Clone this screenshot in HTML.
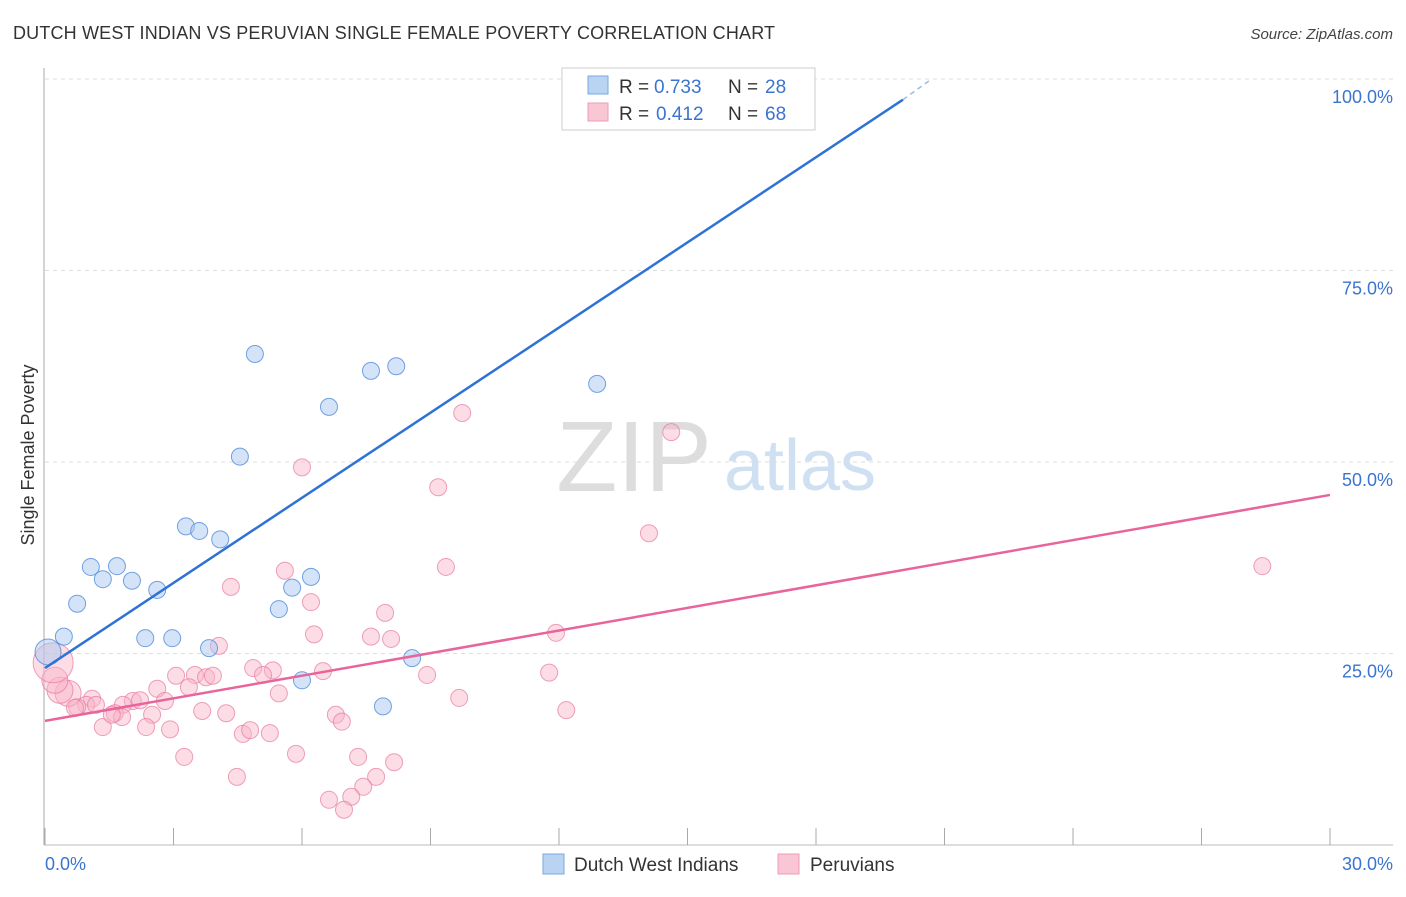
<!DOCTYPE html>
<html><head><meta charset="utf-8"><style>
body{margin:0;background:#fff;font-family:"Liberation Sans",sans-serif;}
svg text{font-family:"Liberation Sans",sans-serif;}
</style></head><body>
<svg id="chart" width="1406" height="892" xmlns="http://www.w3.org/2000/svg">
<text x="13" y="39" font-size="18" fill="#333" letter-spacing="0.17">DUTCH WEST INDIAN VS PERUVIAN SINGLE FEMALE POVERTY CORRELATION CHART</text>
<text x="1393" y="39" font-size="15" fill="#444" text-anchor="end" font-style="italic">Source: ZipAtlas.com</text>
<g>
<text x="634" y="491" font-size="100" fill="#ddd" font-family="Liberation Serif" text-anchor="middle">ZIP</text>
<text x="800" y="490" font-size="72" fill="#cfe0f3" text-anchor="middle">atlas</text>
</g>
<g id="grid"></g>
<g id="axes"></g>
<g id="marks"></g>
<g>
<rect x="562" y="68" width="253" height="62" fill="#fff" stroke="#ccc"/>
<rect x="588" y="76" width="20" height="18" fill="#b9d3f3" stroke="#7aa7e0"/>
<rect x="588" y="103" width="20" height="18" fill="#f9c6d5" stroke="#ee9bb6"/>
<text x="619" y="93" font-size="19" fill="#333">R =</text>
<text x="654" y="93" font-size="19" fill="#3a74d0">0.733</text>
<text x="728" y="93" font-size="19" fill="#333">N =</text>
<text x="765" y="93" font-size="19" fill="#3a74d0">28</text>
<text x="619" y="120" font-size="19" fill="#333">R =</text>
<text x="656" y="120" font-size="19" fill="#3a74d0">0.412</text>
<text x="728" y="120" font-size="19" fill="#333">N =</text>
<text x="765" y="120" font-size="19" fill="#3a74d0">68</text>
</g>
<g>
<rect x="543" y="854" width="21" height="20" fill="#b9d3f3" stroke="#7aa7e0"/>
<text x="574" y="871" font-size="19" fill="#333">Dutch West Indians</text>
<rect x="778" y="854" width="21" height="20" fill="#f9c6d5" stroke="#ee9bb6"/>
<text x="810" y="871" font-size="19" fill="#333">Peruvians</text>
</g>
<text transform="translate(34,455) rotate(-90)" font-size="18" fill="#333" text-anchor="middle">Single Female Poverty</text>
</svg>
<script>
const xTickLabels=["0.0%","30.0%"];
const yTicks=[25,50,75,100];
const yTickLabels=["25.0%","50.0%","75.0%","100.0%"];
const blueX=[0.07,0.44,0.75,1.07,1.35,1.68,2.03,2.34,2.62,2.97,3.29,3.60,3.83,4.09,4.55,4.90,5.46,5.77,6.00,6.21,6.63,7.61,7.89,8.20,8.57,12.89,14.24,17.05];
const blueY=[25.2,27.2,31.5,36.3,34.7,36.4,34.5,27.0,33.3,27.0,41.6,41.0,25.7,39.9,50.7,64.1,30.8,33.6,21.5,35.0,57.2,61.9,18.1,62.5,24.4,60.2,100,100];
const pinkX=[5.60,4.34,6.21,7.94,6.28,7.61,8.08,4.06,9.36,8.92,9.67,6.49,4.86,5.32,5.09,5.46,3.06,3.50,3.76,3.92,3.36,2.62,2.80,2.50,2.36,2.92,3.67,4.23,3.25,4.48,4.62,4.79,5.25,5.86,6.79,6.93,7.31,8.15,7.73,7.43,7.15,6.63,6.98,2.05,1.82,2.22,1.63,1.80,1.35,1.10,0.96,0.75,1.19,0.54,0.35,0.23,0.19,9.74,14.62,9.18,14.10,28.42,11.93,11.77,12.17,6.00,0.70,1.56];
const pinkY=[35.8,33.7,31.7,30.3,27.5,27.2,26.9,26.0,36.3,22.2,19.2,22.7,23.1,22.8,22.2,19.8,22.1,22.2,21.9,22.1,20.6,20.4,18.8,17.0,15.4,15.1,17.5,17.2,11.5,8.9,14.5,15.0,14.6,11.9,17.0,16.1,11.5,10.8,8.9,7.6,6.3,5.9,4.6,18.8,18.3,18.9,17.2,16.7,15.4,19.1,18.3,18.0,18.3,19.8,20.2,21.5,23.8,56.4,53.9,46.7,40.7,36.4,27.7,22.5,17.6,49.3,17.9,17.0];
const blueLine=[0,23.1,20.03,97.3,20.7,100];
const pinkLine=[0,16.2,30,45.7];
const NS="http://www.w3.org/2000/svg";
const X=v=>45+v/30*1285, Y=v=>845-v/100*766;
function mk(tag,attrs,parent){const e=document.createElementNS(NS,tag);for(const k in attrs)e.setAttribute(k,attrs[k]);parent.appendChild(e);return e;}
const grid=document.getElementById('grid'),axes=document.getElementById('axes'),marks=document.getElementById('marks');
yTicks.forEach((t,i)=>{
 const l=mk('line',{x1:45,x2:1393,y1:Y(t),y2:Y(t),stroke:'#ddd','stroke-dasharray':'4,4'},grid);
 
 
 const tx=mk('text',{x:1393,y:Y(t)+24,'font-size':18,fill:'#3a74d0','text-anchor':'end'},axes);
 tx.textContent=yTickLabels[i];
 
 
});
const ax=mk('line',{x1:44,x2:44,y1:68,y2:845,stroke:'#aaa'},axes);


const bx=mk('line',{x1:44,x2:1393,y1:845,y2:845,stroke:'#bbb'},axes);


for(let i=0;i<=10;i++){const t=mk('line',{x1:X(i*3),x2:X(i*3),y1:828,y2:845,stroke:'#aaa'},axes);
 
 }
[[0,'start',45],[30,'end',1393]].forEach((d,i)=>{const t=mk('text',{x:d[2],y:870,'font-size':18,fill:'#3a74d0','text-anchor':d[1]},axes);t.textContent=xTickLabels[i];
 
 });
pinkX.forEach((v,i)=>{const r=i===56?20:(i>=53&&i<=55?13:8.5);
 const c=mk('circle',{cx:X(v),cy:Y(pinkY[i]),r:r,fill:'rgba(248,180,200,0.45)',stroke:'rgba(232,120,160,0.7)','stroke-width':1},marks);
 
 });
blueX.forEach((v,i)=>{const r=i===0?13:8.5;
 const c=mk('circle',{cx:X(v),cy:Y(blueY[i]),r:r,fill:'rgba(170,200,240,0.5)',stroke:'rgba(80,140,220,0.8)','stroke-width':1},marks);
 
 });
const bl=mk('line',{x1:X(blueLine[0]),y1:Y(blueLine[1]),x2:X(blueLine[2]),y2:Y(blueLine[3]),stroke:'#2f72d6','stroke-width':2.5},marks);


const bd=mk('line',{x1:X(blueLine[2]),y1:Y(blueLine[3]),x2:X(blueLine[4]),y2:Y(blueLine[5]),stroke:'#9bbbe8','stroke-width':1.5,'stroke-dasharray':'5,4'},marks);


const pl=mk('line',{x1:X(pinkLine[0]),y1:Y(pinkLine[1]),x2:X(pinkLine[2]),y2:Y(pinkLine[3]),stroke:'#e8649a','stroke-width':2.5},marks);


</script>
</body></html>
